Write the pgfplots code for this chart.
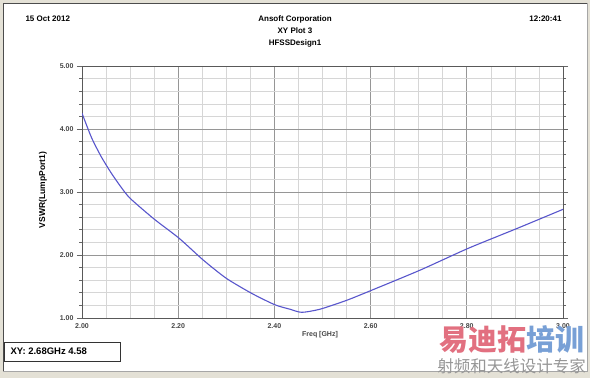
\documentclass[border=0pt]{standalone}
\usepackage{fontspec}
\setmainfont{Liberation Sans}
\newfontfamily\cjk{Noto Sans CJK SC}
\usepackage{pgfplots}
\pgfplotsset{compat=1.18}
\definecolor{curve}{RGB}{88,86,204}
\definecolor{frameBg}{RGB}{228,225,214}
\definecolor{minorgrid}{RGB}{214,214,214}
\definecolor{majorgrid}{RGB}{150,150,150}
\definecolor{ticktext}{RGB}{70,70,70}
\definecolor{wmred}{RGB}{226,112,128}
\definecolor{wmblue}{RGB}{120,160,214}
\definecolor{wmgray}{RGB}{150,150,150}
\begin{document}
\begin{tikzpicture}
\begin{scope}[x=1pt,y=1pt]
\useasboundingbox (0,0) rectangle (590,378);
\fill[frameBg] (0,0) rectangle (590,378);
\fill[white] (3,7) rectangle (587,375);
\draw[black!70,line width=0.8pt] (3,7) -- (3,375) -- (587,375);
\draw[black!35,line width=0.6pt] (3,7) -- (587,7) -- (587,375);
% header
\node[font=\bfseries\fontsize{8}{9}\selectfont,anchor=west] at (22,359) {15 Oct 2012};
\node[font=\bfseries\fontsize{8}{9}\selectfont,anchor=east] at (565,359) {12:20:41};
\node[font=\bfseries\fontsize{8}{9}\selectfont] at (295,359) {Ansoft Corporation};
\node[font=\bfseries\fontsize{8}{9}\selectfont] at (295,347) {XY Plot 3};
\node[font=\bfseries\fontsize{8}{9}\selectfont] at (295,335) {HFSSDesign1};
\end{scope}
\begin{axis}[
  at={(82pt,60pt)}, anchor=south west,
  width=481pt, height=252pt, scale only axis,
  xmin=2, xmax=3, ymin=1, ymax=5,
  xtick={2,2.2,2.4,2.6,2.8,3},
  minor x tick num=3,
  ytick={1,2,3,4,5},
  minor y tick num=4,
  grid=both,
  minor grid style={minorgrid,line width=0.6pt},
  major grid style={majorgrid,line width=0.7pt},
  axis line style={black!65,line width=0.9pt},
  tick align=outside,
  x tick style={draw=none},
  y tick style={black!60,line width=0.6pt},
  major tick length=5pt,
  minor tick length=3pt,
  /pgf/number format/assume math mode=true,
  xticklabel={\pgfmathprintnumber[fixed,fixed zerofill,precision=2]{\tick}},
  yticklabel={\pgfmathprintnumber[fixed,fixed zerofill,precision=2]{\tick}},
  ticklabel style={font=\bfseries\fontsize{7}{8}\selectfont,text=ticktext},
  xticklabel style={yshift=3pt},
]
\addplot[curve,line width=1.1pt,smooth,tension=0.4] coordinates {
(2.000,4.25) (2.020,3.86) (2.040,3.56) (2.060,3.31) (2.080,3.09)
(2.100,2.90) (2.150,2.57) (2.202,2.265) (2.252,1.92)
(2.300,1.63) (2.353,1.39) (2.401,1.21) (2.432,1.14) (2.457,1.09)
(2.495,1.14) (2.550,1.28) (2.602,1.44) (2.703,1.76) (2.803,2.106)
(2.904,2.42) (3.000,2.725)
};
\end{axis}
\begin{scope}[x=1pt,y=1pt]
\node[font=\bfseries\fontsize{8.5}{9}\selectfont,rotate=90] at (43,188) {VSWR(LumpPort1)};
\node[font=\bfseries\fontsize{7}{8}\selectfont,text=ticktext] at (320,43) {Freq [GHz]};
% marker box
\draw[black!80,line width=0.8pt,fill=white] (4,17) rectangle (120,36);
\node[font=\bfseries\fontsize{9.5}{10}\selectfont,anchor=west] at (7,26.5) {XY: 2.68GHz 4.58};
% watermark
\node[font=\cjk\bfseries\fontsize{29}{30}\selectfont,anchor=east,inner sep=0pt] at (585,38) {\textcolor{wmred}{易迪拓}\textcolor{wmblue}{培训}};
\node[font=\cjk\fontsize{16.5}{17}\selectfont,anchor=east,inner sep=0pt,text=wmgray] at (586,12) {射频和天线设计专家};
\end{scope}
\end{tikzpicture}
\end{document}
